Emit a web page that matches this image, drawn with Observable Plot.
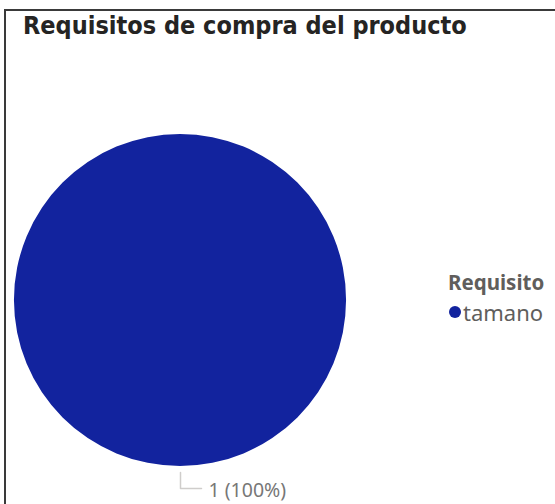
<!DOCTYPE html>
<html>
<head>
<meta charset="utf-8">
<script src="https://cdn.jsdelivr.net/npm/d3@7"></script>
<script src="https://cdn.jsdelivr.net/npm/@observablehq/plot@0.6"></script>
<style>
  html, body { margin: 0; padding: 0; background: #fff; }
  body { width: 555px; height: 504px; position: relative; overflow: hidden; }
  #frame { position: absolute; left: 4px; top: 9px; width: 600px; height: 600px;
           border-top: 2px solid #3a3a3a; border-left: 2px solid #3a3a3a; }
  #title { position: absolute; left: 23px; top: 11px; font-family: "DejaVu Sans Condensed", "DejaVu Sans", sans-serif;
           font-stretch: condensed; font-weight: bold; font-size: 25px; color: #252423; white-space: nowrap; }
  #chart { position: absolute; left: 0; top: 45px; }
  #legend { position: absolute; left: 448px; top: 268px; font-family: "Noto Sans", "Open Sans", sans-serif; color: #605E5C; }
  #legend .lt { font-weight: bold; font-size: 20.5px; }
  #legend .item { display: flex; align-items: center; font-size: 22px; margin-top: 1px; }
  #legend .sw { width: 12px; height: 12px; border-radius: 50%; margin-right: 2px; margin-left: 1px; }
</style>
</head>
<body>
<div id="frame"></div>
<div id="title"></div>
<div id="chart"></div>
<div id="legend"></div>
<script>
const chartTitle = "Requisitos de compra del producto";
const legendTitle = "Requisito";
const categories = ["tamano"];
const values = [1];
const colors = ["#12239E"];

const W = 555, H = 459;
const cx = 180, cy = 255, R = 166;

document.getElementById("title").textContent = chartTitle;

const color = Plot.scale({color: {type: "ordinal", domain: categories, range: colors}});
const total = d3.sum(values);
const arcs = d3.pie().sort(null)(values).map((p, i) => {
  const mid = (p.startAngle + p.endAngle) / 2;
  return {...p, cat: categories[i], mid,
          label: `${values[i]} (${d3.format(".0%")(values[i] / total)})`};
});

// leader lines: from just outside the arc, outward, then horizontal
const leaders = arcs.flatMap((a, i) => {
  const p = r => [cx + r * Math.sin(a.mid), cy - r * Math.cos(a.mid)];
  const p1 = p(R + 6), p2 = p(R + 22);
  const dir = Math.sin(a.mid) < -1e-6 ? -1 : 1;
  const p3 = [p2[0] + dir * 21, p2[1]];
  return [p1, p2, p3].map(([x, y]) => ({x, y, i}));
});
const labels = arcs.map((a, i) => {
  const last = leaders.filter(d => d.i === i).at(-1);
  const dir = Math.sin(a.mid) < -1e-6 ? -1 : 1;
  return {x: last.x + dir * 7, y: last.y, text: a.label, anchor: dir > 0 ? "start" : "end"};
});

const pieMark = (index, scales) => {
  const g = d3.create("svg:g")
    .attr("transform", `translate(${scales.x(cx)},${scales.y(cy)})`);
  const arc = d3.arc().innerRadius(0).outerRadius(R);
  g.selectAll("path").data(arcs).join("path")
    .attr("d", arc)
    .attr("fill", d => color.apply(d.cat));
  return g.node();
};

const plot = Plot.plot({
  width: W, height: H,
  margin: 0,
  x: {domain: [0, W], range: [0, W], axis: null},
  y: {domain: [0, H], range: [0, H], axis: null},
  style: {background: "transparent", overflow: "visible"},
  marks: [
    pieMark,
    Plot.line(leaders, {x: "x", y: "y", z: "i", stroke: "#cfcdcb", strokeWidth: 1.5}),
    Plot.text(labels, {x: "x", y: "y", text: "text", textAnchor: "start",
      fill: "#777", fontSize: 19.5, fontFamily: "Noto Sans, Open Sans, sans-serif", dy: 2})
  ]
});
document.getElementById("chart").appendChild(plot);

const lg = d3.select("#legend");
lg.append("div").attr("class", "lt").text(legendTitle);
const items = lg.selectAll(".item").data(categories).join("div").attr("class", "item");
items.append("div").attr("class", "sw").style("background", d => color.apply(d));
items.append("span").text(d => d);
</script>
</body>
</html>
